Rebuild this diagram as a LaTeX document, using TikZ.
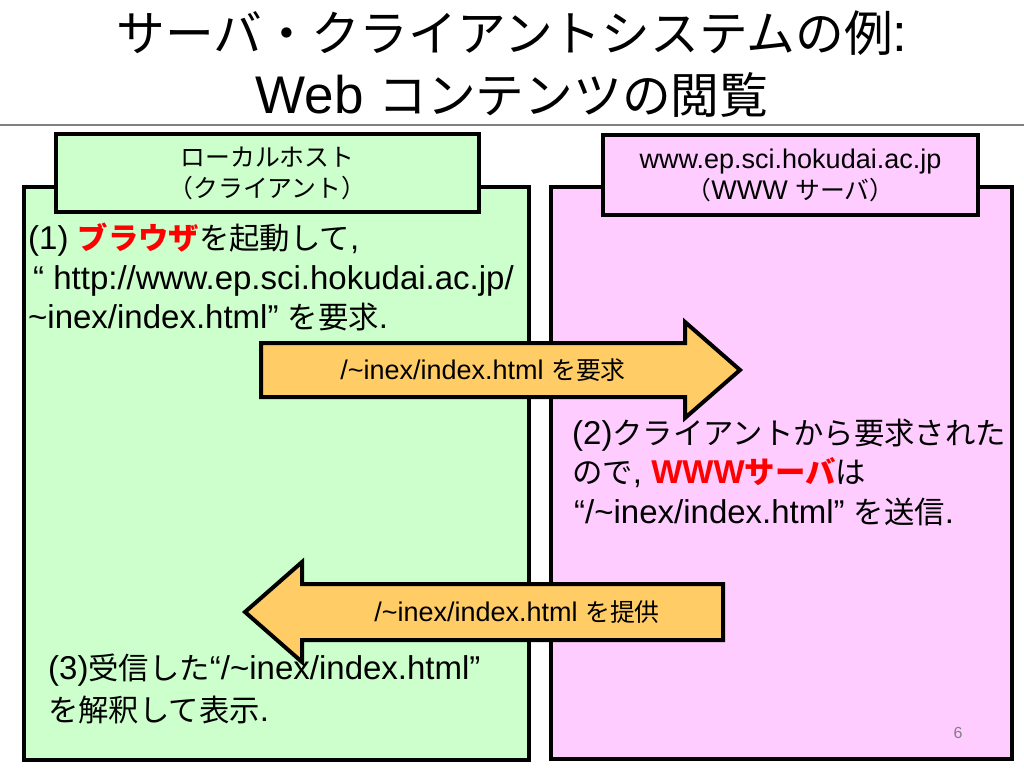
\documentclass[tikz,border=0pt]{standalone}
\usepackage{fontspec}
\setmainfont{Liberation Sans}
\newfontfamily\jpfont[Scale=0.92]{Noto Sans CJK JP}
\newcommand{\jp}[1]{{\jpfont #1}}
\definecolor{clientgreen}{HTML}{CCFFCC}
\definecolor{serverpink}{HTML}{FFCCFF}
\definecolor{msgorange}{HTML}{FFCC66}
\definecolor{rulegray}{HTML}{808080}
\definecolor{emphred}{HTML}{FF0000}
\begin{document}
\begin{tikzpicture}[x=1pt,y=-1pt,
        hostbox/.style={draw,line width=3.5pt,inner sep=0pt},
        hostlabel/.style={draw,line width=3.5pt,align=center,font=\fontsize{27}{31}\selectfont},
        msgarrow/.style={draw,line width=4pt,fill=msgorange,line join=miter}]
    \useasboundingbox (0,0) rectangle (1024,768);
    \begin{scope}[every node/.style={inner sep=0pt,font=\fontsize{53}{60}\selectfont}]
        \node (title1) at (512,33) {\jp{サーバ・クライアントシステムの例}:};
        \node (title2) at (512,95) {Web \jp{コンテンツの閲覧}};
    \end{scope}
    \draw[rulegray,line width=2pt] (0,125) -- (1024,125);

    \node[hostbox,fill=clientgreen,minimum width=505pt,minimum height=573pt] (client) at (276.5,473.5) {};
    \node[hostlabel,fill=clientgreen,minimum width=423pt,minimum height=78pt] (clientlabel) at (267.5,173)
        {\jp{ローカルホスト}\\\jp{（クライアント）}};
    \node[hostbox,fill=serverpink,minimum width=461pt,minimum height=572pt] (server) at (781.5,473) {};
    \node[hostlabel,fill=serverpink,minimum width=375pt,minimum height=80pt] (serverlabel) at (790.5,175)
        {www.ep.sci.hokudai.ac.jp\\\jp{（}WWW \jp{サーバ）}};

    \draw[msgarrow] (261,343) -- (685,343) -- (685,322) -- (740,370) -- (685,418) -- (685,397) -- (261,397) -- cycle;
    \draw[msgarrow] (723,584) -- (302,584) -- (302,562) -- (245,612) -- (302,662) -- (302,640) -- (723,640) -- cycle;
    \begin{scope}[every node/.style={inner sep=0pt,font=\fontsize{27}{27}\selectfont}]
        \node (request) at (483,370) {/\textasciitilde inex/index.html \jp{を要求}};
        \node (provide) at (517,612) {/\textasciitilde inex/index.html \jp{を提供}};
    \end{scope}

    \begin{scope}[every node/.style={anchor=west,inner sep=0pt,text height=28pt,text depth=5pt,font=\fontsize{33}{40}\selectfont}]
        \node (step1a) at (28,238) {(1) {\color{emphred}\bfseries\jp{ブラウザ}}\jp{を起動して},};
        \node (step1b) at (33,278) {“ http://www.ep.sci.hokudai.ac.jp/};
        \node (step1c) at (28,317) {\textasciitilde inex/index.html” \jp{を要求}.};

        \node (step2a) at (572,433) {(2)\jp{クライアントから要求された}};
        \node (step2b) at (572,472) {\jp{ので}, {\color{emphred}\bfseries WWW\jp{サーバ}}\jp{は}};
        \node (step2c) at (574,512) {“/\textasciitilde inex/index.html” \jp{を送信}.};

        \node (step3a) at (48,668) {(3)\jp{受信した}“/\textasciitilde inex/index.html”};
        \node (step3b) at (48,710) {\jp{を解釈して表示}.};
    \end{scope}
    \node[rulegray,font=\fontsize{16}{16}\selectfont] (pagenum) at (958,733) {6};
\end{tikzpicture}
\end{document}
